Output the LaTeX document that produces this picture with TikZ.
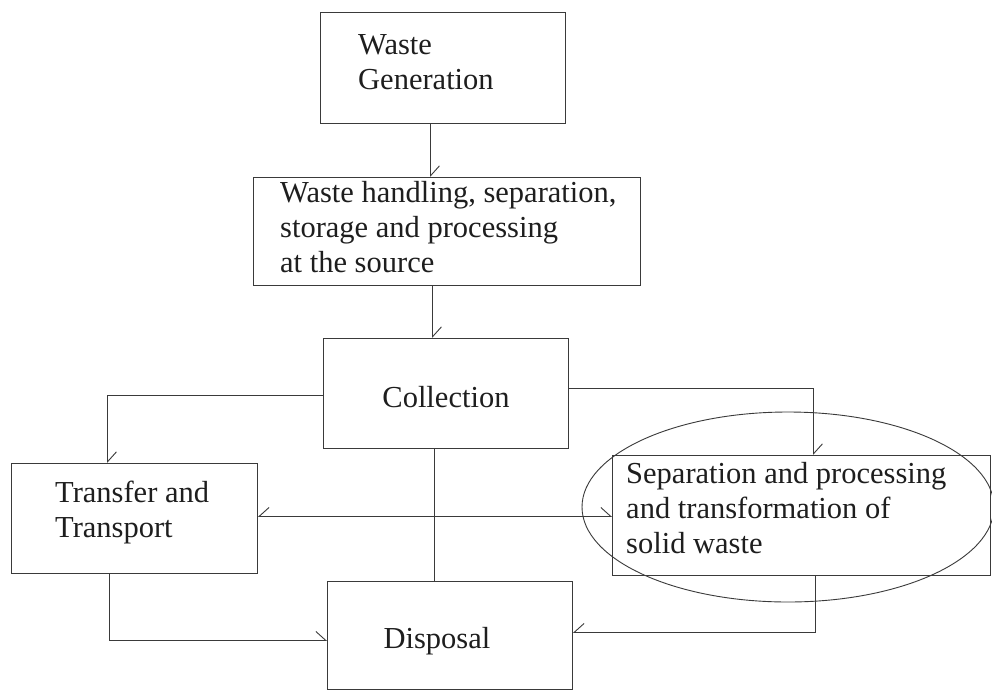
\documentclass[tikz,border=0pt]{standalone}
\usepackage{fontspec}
\setmainfont{Liberation Serif}
\usetikzlibrary{arrows.meta,calc,shapes.geometric}
\definecolor{linec}{HTML}{3A3A3A}
\definecolor{textc}{HTML}{1E1E1E}
\begin{document}
\begin{tikzpicture}[x=1pt,y=-1pt,
  box/.style={draw=linec, line width=0.9pt, rectangle, inner sep=0pt, anchor=north west},
  txt/.style={font=\fontsize{30.5}{35}\selectfont, align=left, inner sep=0pt, text=textc},
  conn/.style={draw=linec, line width=0.9pt},
  hl/.style={conn, -{Straight Barb[harpoon, length=10pt, width=18pt, line width=0.9pt]}},
  hr/.style={conn, -{Straight Barb[harpoon, swap, length=10pt, width=18pt, line width=0.9pt]}},
  both/.style={conn, {Straight Barb[harpoon, swap, length=10pt, width=18pt, line width=0.9pt]}-{Straight Barb[harpoon, length=10pt, width=18pt, line width=0.9pt]}}
]
\useasboundingbox (0,0) rectangle (992,691);
\fill[white] (0,0) rectangle (992,691);

% boxes
\node[box, minimum width=245pt, minimum height=111pt] (gen) at (320,12) {};
\node[box, minimum width=387pt, minimum height=108pt] (hand) at (253,177) {};
\node[box, minimum width=245pt, minimum height=110pt] (coll) at (323,338) {};
\node[box, minimum width=246pt, minimum height=110pt] (trans) at (11,463) {};
\node[box, minimum width=378pt, minimum height=120pt] (sep) at (612,455) {};
\node[box, minimum width=245pt, minimum height=108pt] (disp) at (327,581) {};

% texts
\node[txt, anchor=west] (gent) at ($(gen.west)+(38,-5.5)$) {Waste\\Generation};
\node[txt, anchor=west] (handt) at ($(hand.west)+(27,-4)$) {Waste handling, separation,\\storage and processing\\at the source};
\node[txt] (collt) at ($(coll.center)+(0,4)$) {Collection};
\node[txt, anchor=west] (transt) at ($(trans.west)+(44,-6)$) {Transfer and\\Transport};
\node[txt, anchor=west] (sept) at ($(sep.west)+(14,-7)$) {Separation and processing\\and transformation of\\solid waste};
\node[txt] (dispt) at ($(disp.center)+(-13,6)$) {Disposal};

% ellipse
\node[draw=linec, line width=0.9pt, ellipse, minimum width=412pt, minimum height=190pt, inner sep=0pt] (ring) at (788,507) {};

% connectors
\draw[hl] ([xshift=-12.5pt]gen.south) -- ([xshift=-12.5pt]gen.south |- hand.north);
\draw[hl] ([xshift=-14.5pt]hand.south) -- ([xshift=-14.5pt]hand.south |- coll.north);
\draw[hl] ([yshift=-2pt]coll.west) -| ([xshift=-27pt]trans.north);
\draw[hl] ([yshift=5pt]coll.east) -| ([xshift=12pt]sep.north);
\draw[conn] ([xshift=-11.5pt]coll.south) -- ([xshift=-11.5pt]coll.south |- disp.north);
\draw[hl] ([xshift=-25pt]trans.south) |- ([yshift=-5pt]disp.west);
\draw[hr] ([xshift=14pt]sep.south) |- ([yshift=3pt]disp.east);
\draw[both] ([yshift=2pt]trans.east) -- ([yshift=2pt]trans.east -| sep.west);
\end{tikzpicture}
\end{document}
